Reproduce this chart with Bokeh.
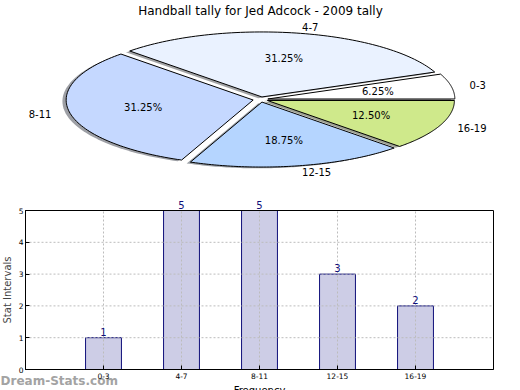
import numpy as np
from bokeh.plotting import figure
from bokeh.layouts import column
from bokeh.models import Range1d, FixedTicker, LinearAxis
from bokeh.core.properties import value
from bokeh.embed import file_html
from bokeh.resources import INLINE

# ---------------- data ----------------
categories = ["0-3", "4-7", "8-11", "12-15", "16-19"]
counts = [1, 5, 5, 3, 2]
pie_colors = ["#ffffff", "#eaf2ff", "#c5d8ff", "#b5d5ff", "#cfe98b"]
title_text = "Handball tally for Jed Adcock - 2009 tally"
y_label = "Stat Intervals"
x_label = "Frequency"
y_ticks = [0, 1, 2, 3, 4, 5]
watermark = "Dream-Stats.com"

FONT = "DejaVu Sans"
W, H1, H2 = 520, 195, 195

def base_fig(h, xr, yr):
    f = figure(width=W, height=h, output_backend="svg", toolbar_location=None,
               x_range=xr, y_range=yr, x_axis_location=None, y_axis_location=None,
               min_border=0, min_border_left=0, min_border_right=0,
               min_border_top=0, min_border_bottom=0,
               outline_line_color=None, background_fill_color="white",
               border_fill_color="white")
    f.grid.visible = False
    return f

# ---------------- pie (top) ----------------
p1 = base_fig(H1, Range1d(0, W), Range1d(H1, 0))

CX, CY, RX, RY = 260.0, 99.0, 187.0, 65.0
EXPLODE = 0.04
SHX, SHY = -0.02 * RX, 0.02 * RY

total = float(sum(counts))
fracs = np.array(counts, dtype=float) / total
cum = np.concatenate([[0.0], np.cumsum(fracs)])

sl_xs, sl_ys, sh_xs, sh_ys, sh_cols = [], [], [], [], []
pct_x, pct_y, pct_t = [], [], []
lab_x, lab_y, lab_t, lab_align = [], [], [], []
for i, c in enumerate(categories):
    a0, a1 = 2 * np.pi * cum[i], 2 * np.pi * cum[i + 1]
    m = 0.5 * (a0 + a1)
    ox, oy = EXPLODE * RX * np.cos(m), -EXPLODE * RY * np.sin(m)
    th = np.linspace(a0, a1, 80)
    xs = np.concatenate([[CX + ox], CX + ox + RX * np.cos(th)])
    ys = np.concatenate([[CY + oy], CY + oy - RY * np.sin(th)])
    sl_xs.append(list(xs)); sl_ys.append(list(ys))
    sh_xs.append(list(xs + SHX)); sh_ys.append(list(ys + SHY))
    col = pie_colors[i].lstrip("#")
    rgb = [int(col[k:k + 2], 16) for k in (0, 2, 4)]
    sh_cols.append("#%02x%02x%02x" % tuple(int(0.3 * v) for v in rgb))
    pct_x.append(CX + ox + 0.6 * RX * np.cos(m))
    pct_y.append(CY + oy - 0.6 * RY * np.sin(m))
    pct_t.append("%.2f%%" % (100 * fracs[i]))
    lab_x.append(CX + ox + 1.1 * RX * np.cos(m))
    lab_y.append(CY + oy - 1.1 * RY * np.sin(m))
    lab_t.append(c)
    lab_align.append("left" if np.cos(m) > 0 else "right")

p1.patches(sh_xs, sh_ys, fill_color=sh_cols, fill_alpha=0.5, line_color=None)
p1.patches(sl_xs, sl_ys, fill_color=pie_colors, line_color="black", line_width=1)
p1.text(pct_x, pct_y, text=pct_t, text_font=value(FONT), text_font_size="10px",
        text_align="center", text_baseline="middle", text_color="black")
p1.text(lab_x, lab_y, text=lab_t, text_font=value(FONT), text_font_size="10px",
        text_align=lab_align, text_baseline="middle", text_color="black")
p1.text([W / 2], [10], text=[title_text], text_font=value(FONT), text_font_size="12px",
        text_align="center", text_baseline="middle", text_color="black")

# ---------------- bars (bottom) ----------------
# plot box inside the lower canvas (pixels): left, right, top, bottom
BOX_L, BOX_R, BOX_T, BOX_B = 25.0, 493.0, 15.0, 174.0
XMAX, YMAX = len(categories) + 1, max(y_ticks)
ux = (BOX_R - BOX_L) / XMAX
uy = (BOX_B - BOX_T) / YMAX
xr = Range1d(-BOX_L / ux, XMAX + (W - BOX_R) / ux)
yr = Range1d(-(H2 - BOX_B) / uy, YMAX + BOX_T / uy)
p2 = base_fig(H2, xr, yr)

xpos = list(range(1, len(categories) + 1))

p2.vbar(x=xpos, top=counts, width=0.46, fill_color="#cdcde6",
        line_color="#10107a", line_width=1)

# dotted grid (drawn above bars, as in the original)
p2.segment(x0=xpos, y0=[0] * len(xpos), x1=xpos, y1=[YMAX] * len(xpos),
           line_color="#bcbcbc", line_dash="2 2", line_width=1)
p2.segment(x0=[0] * len(y_ticks), y0=y_ticks, x1=[XMAX] * len(y_ticks), y1=y_ticks,
           line_color="#bcbcbc", line_dash="2 2", line_width=1)
# plot box
p2.quad(left=[0], right=[XMAX], bottom=[0], top=[YMAX], fill_color=None,
        line_color="black", line_width=1)

xaxis = LinearAxis(fixed_location=0, bounds=(0, XMAX), ticker=FixedTicker(ticks=xpos),
                   major_label_overrides={x: c for x, c in zip(xpos, categories)})
yaxis = LinearAxis(fixed_location=0, bounds=(0, YMAX), ticker=FixedTicker(ticks=y_ticks),
                   axis_label=y_label)
for ax in (xaxis, yaxis):
    ax.major_tick_in = 4
    ax.major_tick_out = 0
    ax.minor_tick_line_color = None
    ax.axis_line_color = "black"
    ax.major_tick_line_color = "black"
    ax.major_label_text_font = FONT
    ax.major_label_text_font_size = "7.5px"
    ax.major_label_text_color = "black"
    ax.major_label_standoff = 3
yaxis.major_label_standoff = 2
yaxis.axis_label_text_font = FONT
yaxis.axis_label_text_font_size = "10px"
yaxis.axis_label_text_font_style = "normal"
yaxis.axis_label_standoff = 3
p2.add_layout(xaxis, "below")
p2.add_layout(yaxis, "left")

# value labels on bars
p2.text(xpos, counts, text=[str(v) for v in counts], text_font=value(FONT),
        text_font_size="10px", text_align="center", text_baseline="bottom",
        y_offset=-2, text_color="#10107a")

# x axis title (partly cut by the image edge, as in the original)
p2.text([XMAX / 2], [-0.5], text=[x_label], text_font=value(FONT),
        text_font_size="10px", text_align="center", text_baseline="top",
        text_color="black")
# watermark
p2.text([-0.32], [-0.35], text=[watermark], text_font=value(FONT),
        text_font_size="12px", text_font_style="bold", text_align="left",
        text_baseline="middle", text_color="#a3a3a3")

layout = column(p1, p2, spacing=0)
html = file_html(layout, INLINE)
html = html.replace("</head>", "<style>html,body{margin:0;padding:0;overflow:hidden}</style></head>", 1)
open("out.html", "w").write(html)
